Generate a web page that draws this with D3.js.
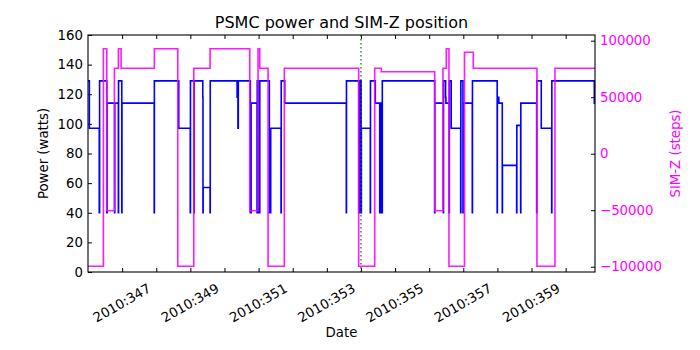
<!DOCTYPE html>
<html>
<head>
<meta charset="utf-8">
<script src="https://cdn.jsdelivr.net/npm/d3@7"></script>
<style>
body { margin: 0; background: #fff; }
svg text { font-family: "DejaVu Sans", sans-serif; }
</style>
</head>
<body>
<div id="chart"></div>
<script>

// PSMC power, step changes (day of 2010, watts)
var powerDays = [345.00, 345.04, 345.33, 345.34, 345.55, 345.56, 345.78, 345.785, 345.89, 345.895,
	345.99, 345.995, 346.94, 346.945, 347.66, 347.997, 348.003, 348.105, 348.11, 348.364,
	348.37, 348.375, 348.578, 348.583, 349.37, 349.395, 349.405, 349.758, 349.78, 349.955,
	349.96, 349.99, 349.995, 350.03, 350.035, 350.315, 350.355, 350.658, 350.663, 350.766,
	352.571, 352.576, 352.934, 352.94, 352.975, 352.98, 353.005, 353.012, 353.274, 353.279,
	353.421, 353.55, 353.555, 353.595, 353.6, 353.62, 353.626, 355.161, 355.166, 355.415,
	355.42, 355.48, 355.49, 355.585, 355.59, 355.645, 355.923, 355.928, 355.99, 355.995,
	356.263, 356.268, 356.993, 356.998, 357.04, 357.142, 357.147, 357.564, 357.569, 357.681,
	357.686, 358.15, 358.155, 358.285, 358.59, 358.595, 359.84, 359.86];
var powerWatts = [129, 97, 40, 129, 40, 114, 40, 114, 40, 129,
	40, 114, 40, 129, 97, 40, 129, 40, 129, 118,
	40, 57, 40, 129, 118, 97, 129, 40, 114, 40,
	129, 40, 129, 40, 129, 40, 97, 40, 129, 114,
	40, 129, 40, 129, 40, 129, 40, 97, 40, 129,
	114, 40, 114, 40, 114, 40, 129, 40, 114, 40,
	129, 118, 114, 40, 129, 97, 40, 129, 40, 114,
	40, 129, 40, 118, 114, 40, 72, 40, 99, 40,
	114, 40, 129, 97, 40, 129, 114, 114];

// SIM-Z position, step changes (day of 2010, steps)
var simzDays = [345.0, 345.451, 345.551, 345.774, 345.891, 345.97, 346.945, 347.631, 348.1, 348.578,
	349.741, 349.984, 350.034, 350.277, 350.754, 352.934, 353.403, 353.597, 355.161, 355.404,
	355.501, 355.58, 356.034, 356.292, 358.158, 358.686, 359.86];
var simzSteps = [-99616, 92904, -50504, 75624, 92904, 75624, 92904, -99616, 75624, 92904,
	-50504, 92904, 75624, -99616, 75624, -99616, 75624, 72500, -50504, 75624,
	92904, -99616, 89700, 75624, -99616, 75624, 75624];

var dayTicks = [346, 347, 348, 349, 350, 351, 352, 353, 354, 355, 356, 357, 358, 359];
var labelDays = [347, 349, 351, 353, 355, 357, 359];
var dateLabels = ["2010:347", "2010:349", "2010:351", "2010:353", "2010:355", "2010:357", "2010:359"];
var powerTicks = [0, 20, 40, 60, 80, 100, 120, 140, 160];
var simzTicks = [-100000, -50000, 0, 50000, 100000];
var markerDay = 353.0;

var margin = {top: 35, right: 105, bottom: 78, left: 88},
	plotwidth = 700 - margin.left - margin.right,
	plotheight = 350 - margin.top - margin.bottom;

var svg = d3.select("#chart").append("svg")
	.attr("width", 700)
	.attr("height", 350);

var plotarea = svg.append("g")
	.attr("transform", "translate(" + margin.left + "," + margin.top + ")");

var x = d3.scaleLinear()
		.domain([345, 359.86])
		.range([0, plotwidth]),
	yPower = d3.scaleLinear()
		.domain([0, 160])
		.range([plotheight, 0]),
	ySimz = d3.scaleLinear()
		.domain([-104660, 105020])
		.range([plotheight, 0]);

// axes, ticks pointing in
var bottomAxis = plotarea.append("g")
	.attr("class", "x axis")
	.attr("transform", "translate(0," + plotheight + ")")
	.call(d3.axisBottom(x)
		.tickValues(dayTicks)
		.tickSizeInner(-4)
		.tickSizeOuter(0)
		.tickFormat(function(d) {
			var i = labelDays.indexOf(d);
			return i < 0 ? "" : dateLabels[i];
		}));

bottomAxis.selectAll("text")
	.attr("x", 0)
	.attr("y", 0)
	.attr("dy", 0)
	.attr("text-anchor", "end")
	.attr("transform", "translate(-5,19) rotate(-30)");

plotarea.append("g")
	.attr("class", "x axis")
	.call(d3.axisTop(x)
		.tickValues(dayTicks)
		.tickSizeInner(-4)
		.tickSizeOuter(0)
		.tickFormat(""));

plotarea.append("g")
	.attr("class", "y axis")
	.call(d3.axisLeft(yPower)
		.tickValues(powerTicks)
		.tickSizeInner(-4)
		.tickSizeOuter(0)
		.tickPadding(5));

var rightAxis = plotarea.append("g")
	.attr("class", "y axis right")
	.attr("transform", "translate(" + plotwidth + ",0)")
	.call(d3.axisRight(ySimz)
		.tickValues(simzTicks)
		.tickSizeInner(-4)
		.tickSizeOuter(0)
		.tickPadding(5)
		.tickFormat(d3.format("d")));

svg.selectAll(".axis text")
	.attr("font-size", "13.3px")
	.attr("fill", "#000");
rightAxis.selectAll("text").attr("fill", "#ff00ff");
svg.selectAll(".axis path.domain").remove();
svg.selectAll(".axis line").attr("stroke", "#000");

// lines
var powerLine = d3.line()
	.curve(d3.curveStepAfter)
	.x(function(d, i) { return x(powerDays[i]); })
	.y(function(d) { return yPower(d); });

var simzLine = d3.line()
	.curve(d3.curveStepAfter)
	.x(function(d, i) { return x(simzDays[i]); })
	.y(function(d) { return ySimz(d); });

plotarea.append("path")
	.datum(powerWatts)
	.attr("d", powerLine)
	.attr("fill", "none")
	.attr("stroke", "#0000ff")
	.attr("stroke-width", 1.6);

plotarea.append("path")
	.datum(simzSteps)
	.attr("d", simzLine)
	.attr("fill", "none")
	.attr("stroke", "#ff00ff")
	.attr("stroke-opacity", 0.9)
	.attr("stroke-width", 1.6);

plotarea.append("line")
	.attr("x1", x(markerDay))
	.attr("x2", x(markerDay))
	.attr("y1", 0)
	.attr("y2", plotheight)
	.attr("stroke", "#008000")
	.attr("stroke-width", 1.2)
	.attr("stroke-dasharray", "1.5,2.5");

// frame
plotarea.append("rect")
	.attr("width", plotwidth)
	.attr("height", plotheight)
	.attr("fill", "none")
	.attr("stroke", "#000")
	.attr("stroke-width", 1.1);

// titles
svg.append("text")
	.attr("x", margin.left + plotwidth / 2)
	.attr("y", 28)
	.attr("text-anchor", "middle")
	.attr("font-size", "16px")
	.text("PSMC power and SIM-Z position");

svg.append("text")
	.attr("x", margin.left + plotwidth / 2)
	.attr("y", 337)
	.attr("text-anchor", "middle")
	.attr("font-size", "13.3px")
	.text("Date");

svg.append("text")
	.attr("transform", "translate(48," + (margin.top + plotheight / 2) + ") rotate(-90)")
	.attr("text-anchor", "middle")
	.attr("font-size", "13.3px")
	.text("Power (watts)");

svg.append("text")
	.attr("transform", "translate(680," + (margin.top + plotheight / 2) + ") rotate(-90)")
	.attr("text-anchor", "middle")
	.attr("font-size", "13.3px")
	.attr("fill", "#ff00ff")
	.text("SIM-Z (steps)");

</script>
</body>
</html>
